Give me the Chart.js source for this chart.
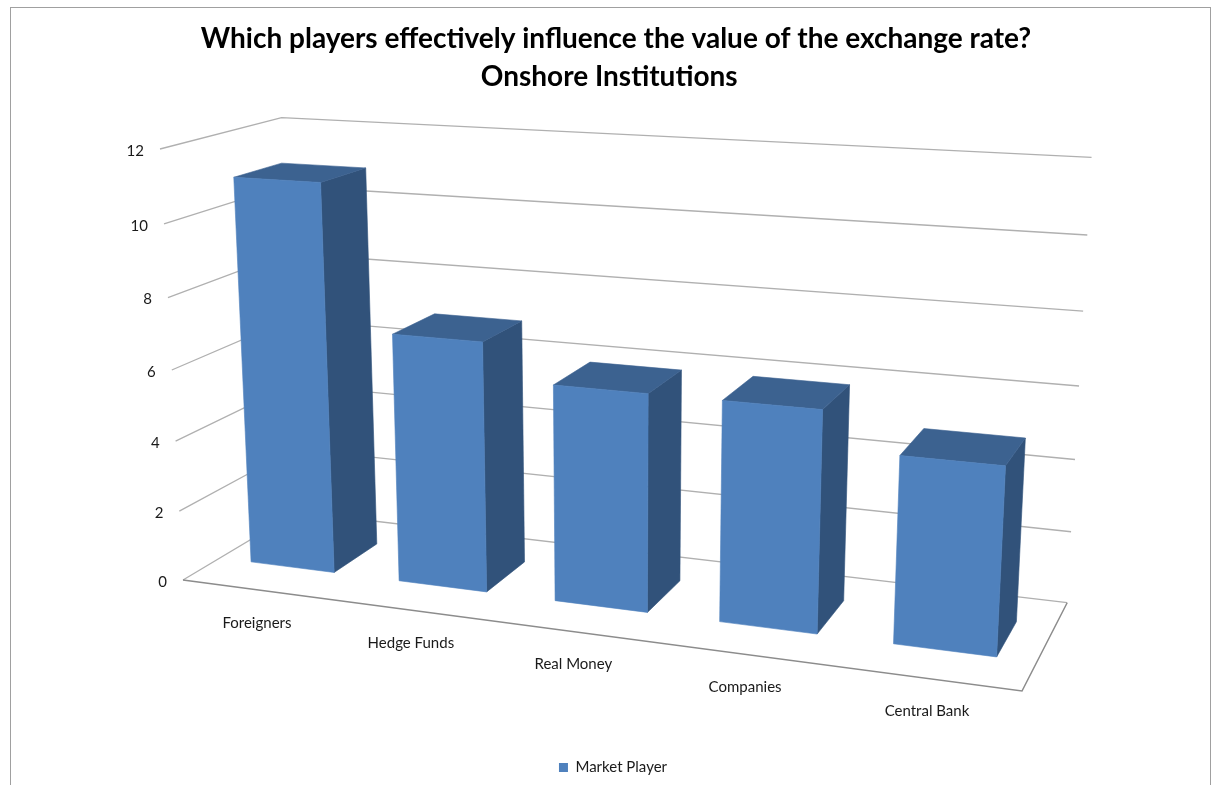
<!DOCTYPE html>
<html>
<head>
<meta charset="utf-8">
<title>Market players</title>
<script src="https://cdn.jsdelivr.net/npm/chart.js@4"></script>
<style>
  html, body { margin: 0; padding: 0; background: #fff; overflow: hidden; }
  canvas { display: block; }
</style>
</head>
<body>
<canvas id="myChart" width="1214" height="785"></canvas>
<script>
// trailing spaces on line two: it sits left of line one in the original
const titleLines = ['Which players effectively influence the value of the exchange rate?', 'Onshore Institutions  '];
const seriesName = 'Market Player';
const categories = ['Foreigners', 'Hedge Funds', 'Real Money', 'Companies', 'Central Bank'];
const marketPlayer = [11, 7, 6, 6, 5];
const yMax = 12;
const yStep = 2;

// corners of the 3d box on screen, and how strong the perspective is along each axis
const origin = [183, 580], xEnd = [1022, 691], yEnd = [160, 149], depthEnd = [297, 512];
const persX = -0.13, persY = -0.05, persD = 0.097;
const barFront = 0.305, barBack = 0.71;

// u = along categories, v = up the value axis, d = into the picture, all 0..1
function project(u, v, d) {
  const w = 1 + persX * u + persY * v + persD * d;
  const out = [0, 1].map(i => origin[i]
    + u * (xEnd[i] * (1 + persX) - origin[i])
    + v * (yEnd[i] * (1 + persY) - origin[i])
    + d * (depthEnd[i] * (1 + persD) - origin[i]));
  return [out[0] / w, out[1] / w];
}

function line(ctx, points, color, width) {
  ctx.beginPath();
  points.forEach((p, i) => i ? ctx.lineTo(p[0], p[1]) : ctx.moveTo(p[0], p[1]));
  ctx.strokeStyle = color;
  ctx.lineWidth = width;
  ctx.stroke();
}

function face(ctx, points, color) {
  ctx.beginPath();
  points.forEach((p, i) => i ? ctx.lineTo(p[0], p[1]) : ctx.moveTo(p[0], p[1]));
  ctx.closePath();
  ctx.fillStyle = color;
  ctx.fill();
  // closes the hairline seams between faces
  ctx.strokeStyle = color;
  ctx.lineWidth = 0.6;
  ctx.stroke();
}

const box3d = {
  id: 'box3d',
  afterLayout(chart) {
    // title sits a little right of the legend in the original
    chart.titleBlock.left += 3;
    chart.titleBlock.right += 3;
  },
  beforeDraw(chart) {
    const ctx = chart.ctx;
    ctx.save();
    ctx.strokeStyle = '#a0a0a0';
    ctx.lineWidth = 1;
    ctx.strokeRect(10.5, 7.5, 1200, 800);
    ctx.restore();
  },
  beforeDatasetsDraw(chart) {
    const ctx = chart.ctx, area = chart.chartArea;
    const xs = chart.scales.x, ys = chart.scales.y;
    const toV = px => (area.bottom - px) / area.height;
    const toU = px => (px - area.left) / area.width;
    ctx.save();

    // walls
    ys.ticks.forEach(t => {
      const v = toV(ys.getPixelForValue(t.value));
      line(ctx, [project(0, v, 0), project(0, v, 1), project(1, v, 1)], '#b0b0b0', 1.3);
    });
    // floor
    line(ctx, [project(0, 0, 0), project(1, 0, 0), project(1, 0, 1)], '#8c8c8c', 1.5);

    // tick labels
    ctx.fillStyle = '#1a1a1a';
    ctx.font = '15px Lato';
    ctx.textBaseline = 'middle';
    ctx.textAlign = 'right';
    ys.ticks.forEach(t => {
      const p = project(0, toV(ys.getPixelForValue(t.value)), 0);
      ctx.fillText(t.label, p[0] - 16, p[1] + 2);
    });
    ctx.textAlign = 'center';
    xs.ticks.forEach(t => {
      const p = project(toU(xs.getPixelForValue(t.value)), 0, 0);
      ctx.fillText(xs.getLabelForValue(t.value), p[0], p[1] + 33);
    });

    // bars
    chart.getDatasetMeta(0).data.forEach(bar => {
      const u0 = toU(bar.x - bar.width / 2), u1 = toU(bar.x + bar.width / 2);
      const v0 = toV(bar.base), v1 = toV(bar.y);
      face(ctx, [project(u1, v0, barFront), project(u1, v0, barBack), project(u1, v1, barBack), project(u1, v1, barFront)], '#31527a');
      face(ctx, [project(u0, v1, barFront), project(u1, v1, barFront), project(u1, v1, barBack), project(u0, v1, barBack)], '#3c6290');
      face(ctx, [project(u0, v0, barFront), project(u1, v0, barFront), project(u1, v1, barFront), project(u0, v1, barFront)], '#4f81bd');
    });
    ctx.restore();
    return false; // bars are drawn above, skip the flat ones
  }
};

const ctx = document.getElementById('myChart').getContext('2d');
const myChart = new Chart(ctx, {
  type: 'bar',
  data: {
    labels: categories,
    datasets: [{
      label: seriesName,
      data: marketPlayer,
      backgroundColor: '#4f81bd',
      borderWidth: 0,
      categoryPercentage: 1,
      barPercentage: 0.5675
    }]
  },
  options: {
    responsive: false,
    animation: false,
    layout: { padding: { left: 12 } },
    scales: {
      x: { grid: { display: false }, border: { display: false }, ticks: { display: false } },
      y: {
        min: 0,
        max: yMax,
        grid: { display: false },
        border: { display: false },
        ticks: { display: false, stepSize: yStep }
      }
    },
    plugins: {
      title: {
        display: true,
        text: titleLines,
        color: '#000',
        font: { family: 'Lato', size: 28, weight: 'bold', lineHeight: 1.36 },
        padding: { top: 20, bottom: 10 }
      },
      legend: {
        position: 'bottom',
        labels: {
          boxWidth: 9,
          boxHeight: 9,
          color: '#1a1a1a',
          font: { family: 'Lato', size: 15 },
          padding: 10
        }
      },
      tooltip: { enabled: false }
    }
  },
  plugins: [box3d]
});
</script>
</body>
</html>
